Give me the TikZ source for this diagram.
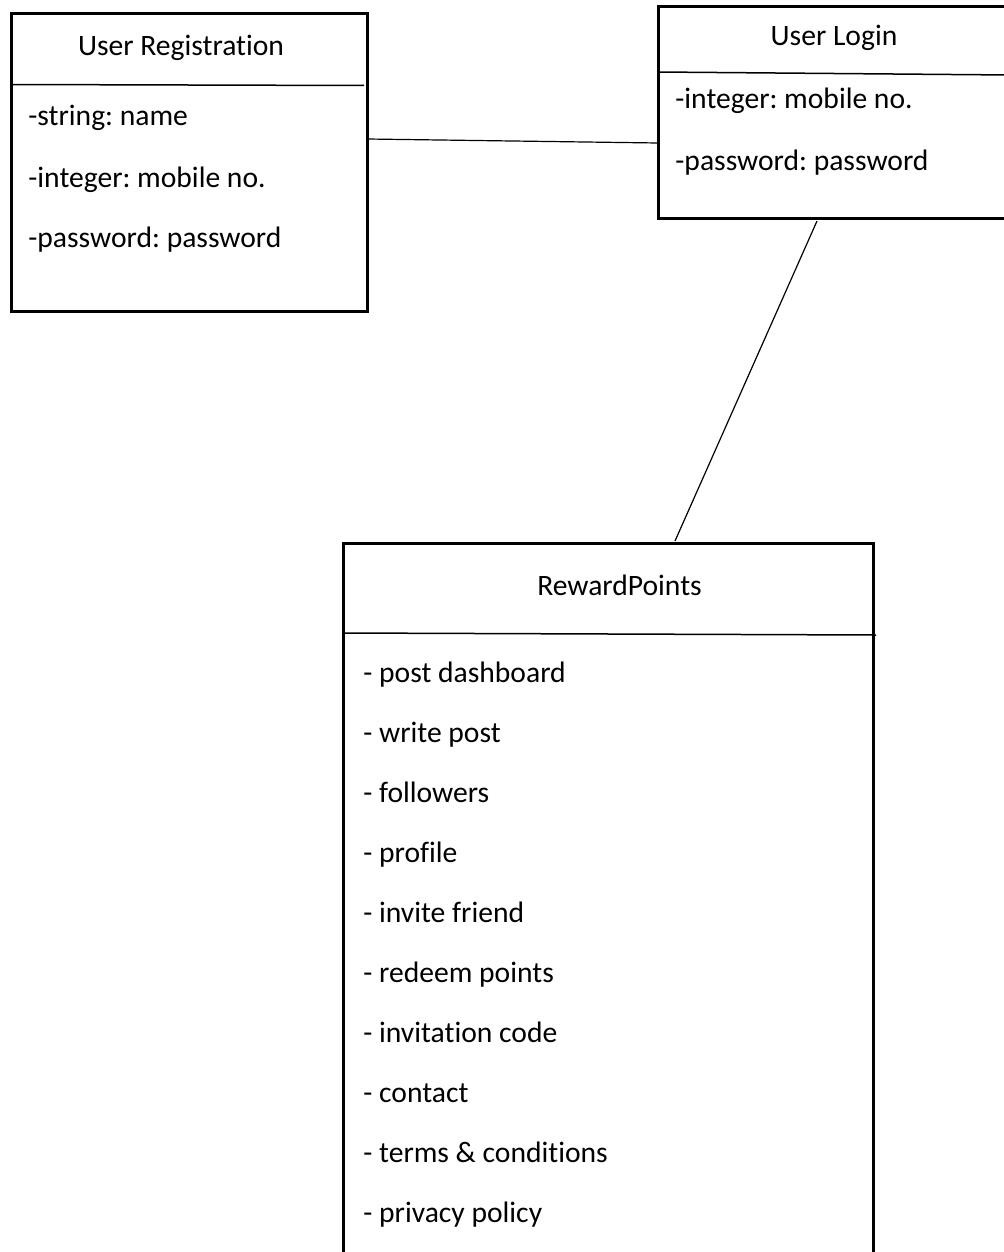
\documentclass[tikz,border=0pt]{standalone}
\usepackage{fontspec}
\setmainfont{Carlito}[Ligatures=CommonOff]
\usetikzlibrary{positioning,calc}
\frenchspacing

\begin{document}
\begin{tikzpicture}[x=0.5pt, y=-0.5pt, font=\fontsize{14.8}{17}\selectfont,
  umlbox/.style={draw, line width=1.5pt, anchor=north west, inner sep=0pt, outer sep=0pt},
  sep/.style={line width=0.75pt},
  link/.style={line width=0.6pt},
  title/.style={anchor=base, inner sep=0pt},
  attr/.style={anchor=base west, inner sep=0pt}]
  \useasboundingbox (0,0) rectangle (1003,1252);
  % class boxes
  \node[umlbox, minimum width=178pt, minimum height=148.5pt] (reg) at (11,14) {};
  \node[umlbox, minimum width=176pt, minimum height=105.5pt] (login) at (658,7) {};
  \node[umlbox, minimum width=265.25pt, minimum height=363.5pt] (reward) at (343,543) {};
  \draw[sep] (11,84.5) -- (364,85.5);
  \draw[sep] (658,72) -- (1010,75);
  \draw[sep] (343,633) -- (876,635);
  % titles
  \node[title] (regT) at (181,56) {User Registration};
  \node[title] (loginT) at (834,46) {User Login};
  \node[title] (rewardT) at (619.5,595) {RewardPoints};
  % attributes
  \node[attr] (reg1) at (28,126) {-string: name};
  \node[attr] (reg2) at (28,187) {-integer: mobile no.};
  \node[attr] (reg3) at (28,247) {-password: password};
  \node[attr] (login1) at (675,109) {-integer: mobile no.};
  \node[attr] (login2) at (675,170) {-password: password};
  \foreach \t [count=\i from 0] in {post dashboard, write post, followers,
      profile, invite friend, redeem points, invitation code, contact,
      terms \& conditions, privacy policy}
    \node[attr] (rp\i) at (363,682+60.1*\i) {- \t};
  % associations
  \draw[link] ([yshift=-62.5pt]reg.north east) -- ([yshift=-68pt]login.north west);
  \draw[link] ([xshift=79.5pt,yshift=-1.5pt]login.south west) -- ([xshift=166pt,yshift=1pt]reward.north west);
\end{tikzpicture}
\end{document}
